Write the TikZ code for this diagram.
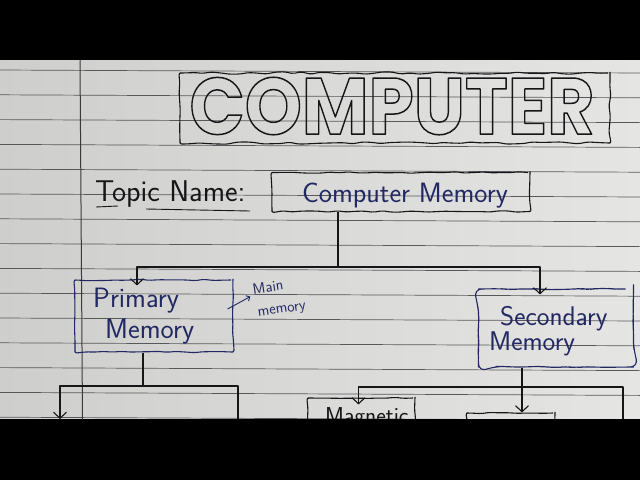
\documentclass[tikz,border=0pt]{standalone}
\usepackage{fontspec}
\usetikzlibrary{arrows.meta,decorations.pathmorphing,calc}
\newfontfamily\bubblefont{Poppins}
\definecolor{paperL}{RGB}{206,206,204}
\definecolor{paperR}{RGB}{229,229,227}
\definecolor{ruleline}{RGB}{88,88,92}
\definecolor{ink}{RGB}{34,40,98}
\definecolor{pen}{RGB}{22,22,24}
% hollow letters: stroke the glyph outlines only
\newcommand{\hollow}[1]{\special{pdf:literal direct 1 Tr 1.5 w}#1\special{pdf:literal direct 0 Tr}}

\begin{document}
\begin{tikzpicture}[x=1pt, y=-1pt, >={Straight Barb[length=6pt,width=13pt]}, line join=round,
  every node/.style={font=\sffamily},
  hand/.style={decorate, decoration={random steps, segment length=9pt, amplitude=0.7pt}, rounded corners=2pt},
  box/.style={draw=pen, line width=1.1pt, hand, inner sep=0pt},
  inkbox/.style={box, draw=ink},
  link/.style={draw=pen, line width=1.1pt},
  note/.style={ink, inner sep=0pt, rotate=8, font=\sffamily\fontsize{15}{17}\selectfont},
  rule/.style={ruleline, line width=0.7pt}]
\pgfmathsetseed{7}
\useasboundingbox (0,0) rectangle (640,480);

% paper
\fill[black] (0,0) rectangle (640,480);
\shade[left color=paperL, right color=paperR] (0,60) rectangle (640,419);
\foreach \i in {0,...,14}
  \draw[rule] (0,{70+24.8*\i}) -- (640,{73+24.8*\i});
\draw[pen!85, line width=1pt] (80,60) -- (82.5,419);

% heading
\node[box, minimum width=430pt, minimum height=70pt, decoration={amplitude=1.2pt}] (titlebox) at (395,108) {};
\node[inner sep=0pt, pen] (title) at (392,106) {\resizebox{405pt}{57pt}{\hollow{\bubblefont\fontsize{80}{80}\selectfont\bfseries COMPUTER}}};

% topic
\node[anchor=base west, pen, inner sep=0pt, font=\sffamily\fontsize{30}{32}\selectfont] (topic) at (95,201) {Topic Name:};
\draw[pen, line width=0.9pt] (96,207) -- (118,206);
\draw[pen, line width=0.9pt] (146,209) -- (250,211);
\node[box, minimum width=258pt, minimum height=39pt] (memory) at (401,192) {};
\node[anchor=base, ink, font=\sffamily\fontsize{28}{30}\selectfont] (memorytext) at (405,202) {Computer Memory};

% first level
\node[inkbox, minimum width=158pt, minimum height=72pt] (primary) at (154,316) {};
\node[anchor=north west, ink, inner sep=0pt, align=left, font=\sffamily\fontsize{28}{31}\selectfont] (primarytext) at (93,288) {Primary\\\hspace*{12pt}Memory};
\node[note] (mainword) at (268,287) {Main};
\node[note] (memoryword) at (282,311) {memory};
\draw[ink, line width=0.9pt, -{Straight Barb[length=3pt,width=6pt]}] ([xshift=-6pt,yshift=7pt]primary.east) -- ([xshift=-3pt,yshift=-2pt]mainword.south west);

\node[inkbox, minimum width=155pt, minimum height=78pt, rounded corners=8pt] (secondary) at (556,328) {};
\node[anchor=north west, ink, inner sep=0pt, align=left, font=\sffamily\fontsize{27}{25}\selectfont] (secondarytext) at (489,306) {\hspace*{11pt}Secondary\\Memory};

\coordinate (j0) at (338,267);
\draw[link] (memory.south -| j0) -- (j0);
\draw[link, ->, shorten >=-6pt] (j0) -| ([xshift=-17pt]primary.north);
\draw[link, ->, shorten >=-6pt] (j0) -| ([xshift=-16pt]secondary.north);

% second level
\coordinate (j1) at (143,386);
\coordinate (pl) at (60,419);
\coordinate (pr) at (238,425);
\draw[link] ([xshift=-11pt]primary.south) -- (j1);
\draw[link, ->] (j1) -| (pl);
\draw[link] (j1) -| (pr);

\node[box, minimum width=107pt, minimum height=40pt] (magnetic) at (361.5,418) {};
\node[anchor=base west, pen, inner sep=0pt, font=\sffamily\fontsize{23}{25}\selectfont] (magnetictext) at (325,423) {Magnetic};
\node[box, minimum width=88pt, minimum height=40pt] (storage) at (511,433) {};
\coordinate (j2) at (522,387);
\coordinate (sr) at (623,425);
\draw[link] ([xshift=-34pt]secondary.south) -- (j2);
\draw[link, ->, shorten >=-7pt] (j2) -| ([xshift=-3pt]magnetic.north);
\draw[link, ->] (j2) -- (storage.north -| j2);
\draw[link] (j2) -| (sr);

% letterbox bars
\fill[black] (0,0) rectangle (640,60);
\fill[black] (0,419) rectangle (640,480);
\end{tikzpicture}
\end{document}
